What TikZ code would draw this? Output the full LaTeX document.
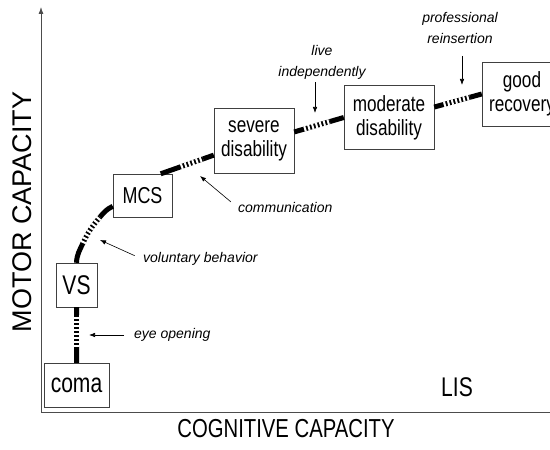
\documentclass[tikz,border=0pt]{standalone}
\usepackage{fontspec}
\setmainfont{Liberation Sans}
\newfontfamily\narrowfont[FakeStretch=0.78]{Liberation Sans}
\usetikzlibrary{arrows.meta,calc}

\begin{document}
\begin{tikzpicture}[x=1pt,y=1pt]
	\tikzstyle{stage}=[draw=black!75,rectangle,text centered,align=center,inner sep=0pt,font=\narrowfont\fontsize{22}{24}\selectfont]
	\tikzstyle{track}=[line width=5pt]
	\tikzstyle{hatched}=[preaction={draw,black,line width=5pt},draw=white,line width=5.6pt,dash pattern=on 2pt off 2pt]
	\tikzstyle{note}=[font=\itshape\fontsize{14}{21}\selectfont,align=center,inner sep=1pt]
	\tikzstyle{pointer}=[-{Latex[length=6pt,width=4.5pt]},line width=0.6pt]
	\tikzstyle{axis}=[draw=black!70,line width=0.8pt]

	\useasboundingbox (0,0) rectangle (550,450);

	% axes
	\coordinate (O) at (41,38);
	\coordinate (ytop) at (41,443);
	\coordinate (xend) at (552,38);
	\draw[axis,-{Latex[length=7pt,width=5pt]}] (O) -- (ytop);
	\draw[axis] (O) -- (xend);
	\node[rotate=90,font=\fontsize{27}{27}\selectfont] (ylab) at (22,238) {MOTOR CAPACITY};
	\node[font=\narrowfont\fontsize{26}{26}\selectfont] (xlab) at (286,21) {COGNITIVE CAPACITY};
	\node[font=\narrowfont\fontsize{27}{27}\selectfont] (lis) at (457,63) {LIS};

	% stages
	\node[stage,minimum width=65,minimum height=44,font=\narrowfont\fontsize{27}{27}\selectfont] (coma) at (76.5,65) {coma};
	\node[stage,minimum width=41,minimum height=44,font=\narrowfont\fontsize{27}{27}\selectfont] (vs) at (76.5,165) {VS};
	\node[stage,minimum width=59,minimum height=43,font=\narrowfont\fontsize{23}{23}\selectfont] (mcs) at (142.5,254.5) {MCS};
	\node[stage,minimum width=80,minimum height=65] (severe) at (254,309.5) {severe\\disability};
	\node[stage,minimum width=90,minimum height=64] (moderate) at (389,332.5) {moderate\\disability};
	\node[stage,minimum width=80,minimum height=64] (good) at (522,356) {good\\recovery};

	% recovery track
	\coordinate (a1) at ($(coma.north)!0.29!(vs.south)$);
	\coordinate (a2) at ($(coma.north)!0.86!(vs.south)$);
	\draw[track] (coma.north) -- (a1);
	\draw[hatched] (a1) -- (a2);
	\draw[track] (a2) -- (vs.south);

	\coordinate (b1) at (83,207);
	\coordinate (b2) at (100,233);
	\draw[track] (vs.north) to[out=88,in=245] (b1);
	\draw[hatched] (b1) to[out=65,in=230] (b2);
	\draw[track] (b2) to[out=50,in=205] (mcs.200);

	\coordinate (c1) at ($(mcs.50)!0.38!(severe.200)$);
	\coordinate (c2) at ($(mcs.50)!0.8!(severe.200)$);
	\draw[track] (mcs.50) -- (c1);
	\draw[hatched] (c1) -- (c2);
	\draw[track] (c2) -- (severe.200);

	\coordinate (d1) at ($(severe.12)!0.2!(moderate.west)$);
	\coordinate (d2) at ($(severe.12)!0.72!(moderate.west)$);
	\draw[track] (severe.12) -- (d1);
	\draw[hatched] (d1) -- (d2);
	\draw[track] (d2) -- (moderate.west);

	\coordinate (e1) at ($(moderate.13)!0.2!(good.west)$);
	\coordinate (e2) at ($(moderate.13)!0.75!(good.west)$);
	\draw[track] (moderate.13) -- (e1);
	\draw[hatched] (e1) -- (e2);
	\draw[track] (e2) -- (good.west);

	% milestones
	\node[note,anchor=west] (eye) at (133,115) {eye opening};
	\coordinate (eyetip) at (89,115);
	\draw[pointer,shorten <=9pt] (eye.west) -- (eyetip);

	\node[note,anchor=west] (vol) at (142,191) {voluntary behavior};
	\coordinate (voltip) at (100,210);
	\draw[pointer,shorten <=8pt] (vol.west) -- (voltip);

	\node[note,anchor=west] (comm) at (237,243) {communication};
	\coordinate (commtip) at (200,274);
	\draw[pointer,shorten <=8pt] (comm.west) -- (commtip);

	\node[note] (live) at (322,388) {live\\independently};
	\coordinate (livetip) at (315,337);
	\draw[pointer,shorten <=2pt] (live.south -| livetip) -- (livetip);

	\node[note] (prof) at (460,422) {professional\\reinsertion};
	\coordinate (proftip) at (462,365);
	\draw[pointer,shorten <=11pt] (prof.south -| proftip) -- (proftip);
\end{tikzpicture}
\end{document}
